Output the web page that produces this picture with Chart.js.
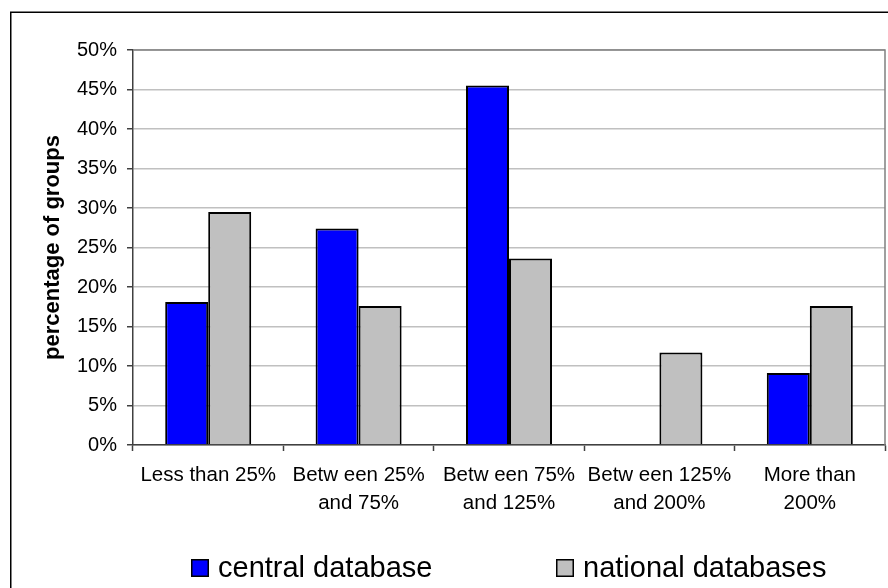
<!DOCTYPE html>
<html>
<head>
<meta charset="utf-8">
<script src="https://cdn.jsdelivr.net/npm/chart.js@4.4.1/dist/chart.umd.min.js"></script>
<style>
  html, body { margin: 0; padding: 0; background: #ffffff; }
  #wrap { width: 888px; height: 588px; position: relative; }
</style>
</head>
<body>
<div id="wrap"><canvas id="c" width="888" height="588"></canvas></div>
<script>
// ---- Data ----
const categories = [
  ['Less than 25%'],
  ['Betw een 25%', 'and 75%'],
  ['Betw een 75%', 'and 125%'],
  ['Betw een 125%', 'and 200%'],
  ['More than', '200%']
];
const centralDatabase = [18.1, 27.4, 45.5, 0, 9.1];
const nationalDatabases = [29.5, 17.6, 23.6, 11.7, 17.6];
const seriesNames = ['central database', 'national databases'];
const yTickLabels = ['0%', '5%', '10%', '15%', '20%', '25%', '30%', '35%', '40%', '45%', '50%'];
const yAxisTitle = 'percentage of groups';

const FONT = "'Liberation Sans', Arial, Helvetica, sans-serif";
Chart.defaults.font.family = FONT;
Chart.defaults.color = '#000000';

// Outer frame + plot-area border
const framePlugin = {
  id: 'frame',
  beforeDraw(chart) {
    const ctx = chart.ctx;
    ctx.save();
    ctx.fillStyle = '#ffffff';
    ctx.fillRect(0, 0, chart.width, chart.height);
    ctx.strokeStyle = '#000000';
    ctx.lineWidth = 1.5;
    ctx.beginPath();
    ctx.moveTo(10.75, chart.height);
    ctx.lineTo(10.75, 12.25);
    ctx.lineTo(chart.width, 12.25);
    ctx.stroke();
    ctx.restore();
  },
  beforeDatasetsDraw(chart) {
    const a = chart.chartArea;
    const ctx = chart.ctx;
    ctx.save();
    ctx.strokeStyle = '#808080';
    ctx.lineWidth = 1.5;
    ctx.beginPath();
    ctx.moveTo(a.left, a.top);
    ctx.lineTo(a.right, a.top);
    ctx.lineTo(a.right, a.bottom);
    ctx.stroke();
    ctx.restore();
  }
};

// Legend drawn from dataset labels/colours
const legendPlugin = {
  id: 'customLegend',
  afterDraw(chart) {
    const ctx = chart.ctx;
    const boxX = [191, 556];
    const boxY = 559, size = 18;
    ctx.save();
    ctx.font = "29px " + FONT;
    ctx.textBaseline = 'middle';
    ctx.textAlign = 'left';
    chart.data.datasets.forEach((ds, i) => {
      ctx.fillStyle = ds.backgroundColor;
      ctx.fillRect(boxX[i], boxY, size, size);
      ctx.strokeStyle = '#000000';
      ctx.lineWidth = 1.5;
      ctx.strokeRect(boxX[i] + 0.75, boxY + 0.75, size - 1.5, size - 1.5);
      ctx.fillStyle = '#000000';
      ctx.fillText(ds.label, boxX[i] + size + 9, boxY + size / 2 + 1);
    });
    ctx.restore();
  }
};

new Chart(document.getElementById('c'), {
  type: 'bar',
  data: {
    labels: categories,
    datasets: [
      {
        label: seriesNames[0],
        data: centralDatabase,
        backgroundColor: '#0000FF',
        borderColor: '#000000',
        borderWidth: 2,
        categoryPercentage: 0.572,
        barPercentage: 1.0
      },
      {
        label: seriesNames[1],
        data: nationalDatabases,
        backgroundColor: '#C0C0C0',
        borderColor: '#000000',
        borderWidth: 2,
        categoryPercentage: 0.572,
        barPercentage: 1.0
      }
    ]
  },
  options: {
    responsive: false,
    animation: false,
    devicePixelRatio: 1,
    layout: { padding: { left: 0, right: 3, top: 50, bottom: 43 } },
    plugins: {
      legend: { display: false },
      tooltip: { enabled: false },
      title: { display: false }
    },
    scales: {
      x: {
        offset: true,
        grid: {
          display: true,
          drawOnChartArea: false,
          offset: true,
          tickLength: 6,
          tickColor: '#404040',
          tickWidth: 1.5
        },
        border: { color: '#404040', width: 1.5 },
        ticks: {
          font: { size: 20.5, lineHeight: 1.37 },
          color: '#000000',
          padding: 10,
          maxRotation: 0,
          minRotation: 0,
          autoSkip: false
        },
        afterFit(s) { s.height = 100; }
      },
      y: {
        min: 0,
        max: 50,
        ticks: {
          stepSize: 5,
          font: { size: 20 },
          color: '#000000',
          padding: 10,
          callback: (v, i) => yTickLabels[i]
        },
        grid: {
          color: '#c0c0c0',
          lineWidth: 1.5,
          tickColor: '#404040',
          tickLength: 6,
          tickWidth: 1.5
        },
        border: { color: '#404040', width: 1.5 },
        title: {
          display: true,
          text: yAxisTitle,
          font: { size: 22, weight: 'bold' },
          color: '#000000',
          padding: { top: 40, bottom: 0 }
        },
        afterFit(s) { s.width = 133; }
      }
    }
  },
  plugins: [framePlugin, legendPlugin]
});
</script>
</body>
</html>
